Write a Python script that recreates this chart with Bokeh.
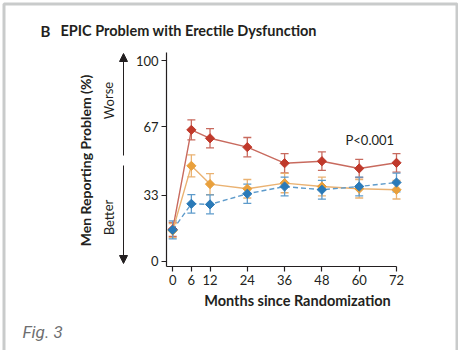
from bokeh.plotting import figure
from bokeh.models import (Range1d, FixedTicker, Label, Whisker, TeeHead, Arrow,
                          NormalHead, BoxAnnotation, ColumnDataSource, LinearAxis)
from bokeh.embed import file_html
from bokeh.resources import INLINE

months = [0, 6, 12, 24, 36, 48, 60, 72]
surgery = [16.0, 65.5, 61.3, 56.9, 48.9, 49.9, 46.3, 49.1]
surgery_err = [3.5, 5.0, 4.8, 4.8, 4.8, 4.6, 4.5, 4.6]
radio = [15.4, 47.6, 38.5, 36.2, 39.0, 37.3, 36.2, 35.7]
radio_err = [3.5, 5.5, 5.2, 4.6, 4.8, 4.7, 4.6, 4.6]
monitor = [15.7, 28.7, 28.4, 33.7, 37.3, 35.7, 37.3, 39.3]
monitor_err = [4.5, 4.6, 4.7, 4.8, 4.7, 4.7, 4.7, 4.7]
x_ticks = [0, 6, 12, 24, 36, 48, 60, 72]
y_ticks = [0, 33, 67, 100]

W, H = 458, 350
# pixel box of the axes, and the data values at its edges
FL, FR, FT, FB = 166, 396, 52, 266
XR = (-2, 72)
YR = (-2.5, 104)

def dx(px):
    return XR[0] + (px - FL) * (XR[1] - XR[0]) / (FR - FL)

def dy(py):
    return YR[0] + (FB - py) * (YR[1] - YR[0]) / (FB - FT)

p = figure(width=W, height=H, output_backend="svg", toolbar_location=None,
           x_range=Range1d(dx(0), dx(W)), y_range=Range1d(dy(H), dy(0)),
           x_axis_type=None, y_axis_type=None,
           min_border_left=0, min_border_right=0,
           min_border_top=0, min_border_bottom=0)
p.outline_line_color = None
p.grid.visible = False
p.background_fill_color = "white"
p.border_fill_color = "white"

FONT = "Lato"
INK = "#231f20"
xax = LinearAxis(fixed_location=YR[0], bounds=XR,
                 ticker=FixedTicker(ticks=x_ticks))
yax = LinearAxis(fixed_location=XR[0], bounds=YR,
                 ticker=FixedTicker(ticks=y_ticks))
for ax in (xax, yax):
    ax.axis_line_color = INK
    ax.axis_line_width = 1.2
    ax.major_tick_line_color = INK
    ax.major_tick_line_width = 1.2
    ax.major_tick_out = 5
    ax.major_tick_in = 0
    ax.minor_tick_line_color = None
    ax.major_label_text_font = FONT
    ax.major_label_text_font_size = "13px"
    ax.major_label_text_color = INK
    ax.major_label_standoff = 3
p.add_layout(xax, "below")
p.add_layout(yax, "left")

series = [
    (surgery, surgery_err, "#c0392b", "#c86a5e", "solid"),
    (radio, radio_err, "#e9a03c", "#eab272", "solid"),
    (monitor, monitor_err, "#2a7ab8", "#5e9bcb", "5 3"),
]
for vals, errs, col, light, dash in series:
    src = ColumnDataSource(dict(x=months, y=vals,
                                lo=[v - e for v, e in zip(vals, errs)],
                                hi=[v + e for v, e in zip(vals, errs)]))
    p.add_layout(Whisker(source=src, base="x", lower="lo", upper="hi",
                         line_color=light, line_width=1.3,
                         upper_head=TeeHead(size=8, line_color=light, line_width=1.3),
                         lower_head=TeeHead(size=8, line_color=light, line_width=1.3)))
    p.line("x", "y", source=src, line_color=light, line_width=1.4, line_dash=dash)
    p.scatter("x", "y", source=src, marker="square", size=6.5, angle=0.7854,
              fill_color=col, line_color=col)

def lab(text, px, py, size="13px", bold=False, italic=False, align="left",
        angle=0, color=INK, font=FONT):
    style = "normal"
    if bold and italic:
        style = "bold italic"
    elif bold:
        style = "bold"
    elif italic:
        style = "italic"
    p.add_layout(Label(x=dx(px), y=dy(py), text=text, text_font=font,
                       text_font_size=size, text_font_style=style,
                       text_color=color, text_align=align,
                       text_baseline="middle", angle=angle))

lab("B", 40, 30, size="15px", bold=True)
lab("EPIC Problem with Erectile Dysfunction", 60, 30, size="14.5px", bold=True)
lab("Men Reporting Problem (%)", 85, 160, size="14px", bold=True,
    align="center", angle=1.5708)
lab("Worse", 108, 100, size="13px", align="center", angle=1.5708)
lab("Better", 108, 217, size="13px", align="center", angle=1.5708)
lab("P<0.001", 345, 139, size="13px")
lab("Months since Randomization", 297, 300, size="14.5px", bold=True,
    align="center")
lab("Fig. 3", 22, 331, size="17px", italic=True, color="#6d6e70",
    font="Roboto")

head = dict(size=8, fill_color=INK, line_color=INK)
p.add_layout(Arrow(x_start=dx(123), y_start=dy(155), x_end=dx(123), y_end=dy(53),
                   line_color=INK, line_width=1, end=NormalHead(**head)))
p.add_layout(Arrow(x_start=dx(123), y_start=dy(165), x_end=dx(123), y_end=dy(263),
                   line_color=INK, line_width=1, end=NormalHead(**head)))

p.add_layout(BoxAnnotation(left=dx(3.5), right=dx(456.5), top=dy(3.5),
                           bottom=dy(400), fill_color=None,
                           line_color="#4d5252", line_width=3))

open("out.html", "w").write(file_html(p, INLINE))
